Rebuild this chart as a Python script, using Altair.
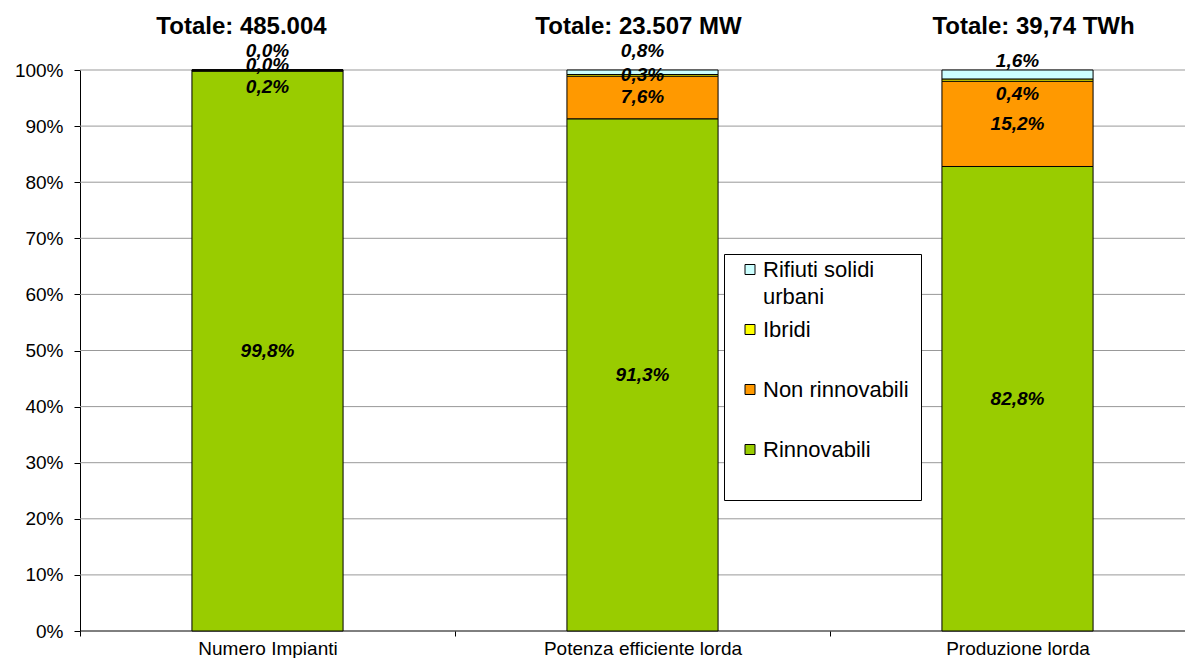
import altair as alt
import pandas as pd

# ---- data -------------------------------------------------------------
categories = ["Numero Impianti", "Potenza efficiente lorda", "Produzione lorda"]
totals = ["Totale: 485.004", "Totale: 23.507 MW", "Totale: 39,74 TWh"]

rinnovabili = [99.8, 91.3, 82.8]
non_rinnovabili = [0.2, 7.6, 15.2]
ibridi = [0.0, 0.3, 0.4]
rifiuti = [0.0, 0.8, 1.6]

series_names = ["Rinnovabili", "Non rinnovabili", "Ibridi", "Rifiuti solidi urbani"]
legend_order = ["Rifiuti solidi urbani", "Ibridi", "Non rinnovabili", "Rinnovabili"]
colors = ["#CCFFFF", "#FFFF00", "#FF9900", "#99CC00"]

y_ticks = list(range(0, 101, 10))

# label nudges in pixels (positive = down), purely stylistic
nudge_rinn = [0, 0, 0]
nudge_non = [16, 0, 0]
nudge_ibr = [-5, 0, 14]
nudge_rif = [-19, -21, -13]
# horizontal nudges of the "Totale" headings, pixels
title_shift = [-26, -4, 16]

# ---- layout ----------------------------------------------------------
W = 1105          # visible plot width
STEP = 375        # category step of the band scale
PI = 0.597        # inner padding -> bar width = STEP * (1 - PI)
N = len(categories)
PO = (W / STEP - (N - PI)) / 2                 # outer padding giving that step
ALIGN = (PI * STEP / 2) / (2 * PO * STEP)      # first category boundary at the y axis
H = 561
FONT = "Liberation Sans"
px_per_unit = H / 100.0

rows = []
for i, cat in enumerate(categories):
    cum = 0.0
    for name, vals, nud in zip(series_names,
                               [rinnovabili, non_rinnovabili, ibridi, rifiuti],
                               [nudge_rinn, nudge_non, nudge_ibr, nudge_rif]):
        v = vals[i]
        y0, y1 = cum, cum + v
        cum = y1
        rows.append(dict(cat=cat, serie=name, y0=y0, y1=y1,
                         lab=(y0 + y1) / 2 - nud[i] / px_per_unit,
                         text=f"{v:.1f}".replace(".", ",") + "%"))
df = pd.DataFrame(rows)
grid_df = pd.DataFrame({"v": y_ticks})

top_expr = "".join(f"datum.label == '{c}' ? '{t}' : " for c, t in zip(categories, totals)) + "''"
legend_expr = ("datum.label == 'Rifiuti solidi urbani' ? ['Rifiuti solidi', 'urbani'] : [datum.label, '']")
title_offset = {
    "condition": [{"test": f"datum.value === '{c}'", "value": s}
                  for c, s in zip(categories[:-1], title_shift[:-1])],
    "value": title_shift[-1],
}

xscale = alt.Scale(domain=categories, paddingInner=PI, paddingOuter=PO, align=ALIGN)
yscale = alt.Scale(domain=[0, 100], nice=False)
yaxis = alt.Axis(title=None, values=y_ticks, labelExpr="datum.value + '%'",
                 labelFont=FONT, labelFontSize=19, labelColor="black", labelPadding=11,
                 tickSize=6, tickColor="black", domainColor="black", grid=False)

grid = alt.Chart(grid_df).mark_rule(strokeWidth=1).encode(
    y=alt.Y("v:Q", scale=yscale, axis=yaxis),
    color=alt.condition("datum.v === 0", alt.value("black"), alt.value("#999999")),
)

bars = alt.Chart(df).mark_bar(stroke="black", strokeWidth=1).encode(
    x=alt.X("cat:N", scale=xscale,
            axis=alt.Axis(title=None, labelFont=FONT, labelFontSize=19, labelColor="black",
                          labelPadding=3, tickSize=5, tickColor="black", domain=False,
                          tickOffset=-STEP / 2, labelOffset=STEP / 2, labelAngle=0, grid=False,
                          labelLimit=400)),
    y=alt.Y("y0:Q", scale=yscale, axis=yaxis),
    y2="y1:Q",
    color=alt.Color("serie:N", scale=alt.Scale(domain=legend_order, range=colors),
                    legend=alt.Legend(title=None, orient="none", legendX=644, legendY=184,
                                      strokeColor="black", fillColor="white", padding=12,
                                      symbolType="M-1,-2.5H1V-0.5H-1Z", symbolSize=100,
                                      symbolStrokeColor="black", symbolStrokeWidth=1,
                                      symbolOffset=3, symbolOpacity=1,
                                      labelFont=FONT, labelFontSize=22, labelColor="black",
                                      labelBaseline="alphabetic", labelOffset=2, rowPadding=11,
                                      labelLimit=300, labelExpr=legend_expr)),
)

labels = alt.Chart(df).mark_text(font=FONT, fontSize=19, fontWeight="bold", fontStyle="italic",
                                 color="black", baseline="middle").encode(
    x=alt.X("cat:N", scale=xscale,
            axis=alt.Axis(orient="top", title=None, domain=False, ticks=False, grid=False,
                          labelFont=FONT, labelFontSize=24, labelFontWeight="bold",
                          labelColor="black", labelPadding=32, labelExpr=top_expr,
                          labelOffset=title_offset,
                          labelAngle=0, labelLimit=400)),
    y=alt.Y("lab:Q", scale=yscale, axis=yaxis),
    text="text:N",
)

chart = (
    alt.layer(grid, bars, labels)
    .resolve_axis(x="independent")
    .properties(width=W, height=H,
                padding={"left": 6, "top": 6, "right": 0, "bottom": 0})
    .configure(style={"guide-label": {"lineHeight": 27}})
    .configure_view(stroke=None)
)

chart.save("out.html", embed_options={"renderer": "svg", "actions": False})
